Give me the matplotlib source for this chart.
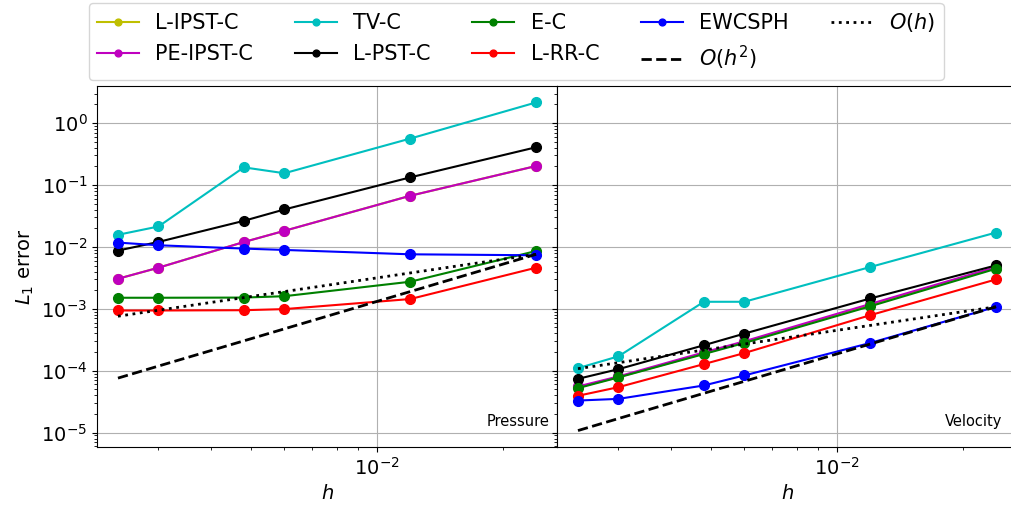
import matplotlib
matplotlib.use('Agg')
import matplotlib.pyplot as plt

h = [0.0024, 0.003, 0.0048, 0.006, 0.012, 0.024]

# pressure errors
p_lipst = [0.00306, 0.00462, 0.0120, 0.0182, 0.0671, 0.203]
p_peipst = [0.00306, 0.00462, 0.0120, 0.0182, 0.0671, 0.203]
p_tv = [0.0157, 0.0214, 0.193, 0.155, 0.563, 2.16]
p_lpst = [0.00873, 0.01205, 0.0264, 0.0403, 0.133, 0.408]
p_ec = [0.00151, 0.00151, 0.00152, 0.0016, 0.00274, 0.0086]
p_lrr = [0.00094, 0.00094, 0.00095, 0.00099, 0.00144, 0.00462]
p_ewc = [0.01175, 0.01064, 0.0094, 0.00894, 0.0076, 0.00733]
p_oh = [7.6e-4, 9.5e-4, 1.52e-3, 1.9e-3, 3.8e-3, 7.6e-3]
p_oh2 = [7.6e-5, 1.19e-4, 3.04e-4, 4.75e-4, 1.9e-3, 7.6e-3]

# velocity errors
v_lipst = [5.4e-5, 7.9e-5, 1.9e-4, 2.9e-4, 1.15e-3, 4.6e-3]
v_peipst = [5.57e-5, 8.1e-5, 1.98e-4, 2.99e-4, 1.20e-3, 4.74e-3]
v_tv = [1.10e-4, 1.71e-4, 1.30e-3, 1.30e-3, 4.74e-3, 0.0171]
v_lpst = [7.4e-5, 1.06e-4, 2.58e-4, 3.98e-4, 1.47e-3, 5.04e-3]
v_ec = [5.24e-5, 7.8e-5, 1.86e-4, 2.81e-4, 1.10e-3, 4.45e-3]
v_lrr = [3.94e-5, 5.43e-5, 1.28e-4, 1.93e-4, 7.9e-4, 2.99e-3]
v_ewc = [3.30e-5, 3.51e-5, 5.78e-5, 8.4e-5, 2.81e-4, 1.08e-3]
v_oh = [1.08e-4, 1.35e-4, 2.16e-4, 2.7e-4, 5.4e-4, 1.08e-3]
v_oh2 = [1.08e-5, 1.69e-5, 4.32e-5, 6.75e-5, 2.7e-4, 1.08e-3]

labels = ['L-IPST-C', 'PE-IPST-C', 'TV-C', 'L-PST-C', 'E-C', 'L-RR-C', 'EWCSPH']
colors = ['y', 'm', 'c', 'k', 'g', 'r', 'b']
pressure = [p_lipst, p_peipst, p_tv, p_lpst, p_ec, p_lrr, p_ewc]
velocity = [v_lipst, v_peipst, v_tv, v_lpst, v_ec, v_lrr, v_ewc]

plt.rcParams['font.size'] = 14

fig, axes = plt.subplots(1, 2, sharey=True, figsize=(10.11, 5.12), dpi=100)
fig.subplots_adjust(left=0.096, right=1.006, bottom=0.127, top=0.832, wspace=0)

for ax, data, oh, oh2, name in [(axes[0], pressure, p_oh, p_oh2, 'Pressure'),
                                 (axes[1], velocity, v_oh, v_oh2, 'Velocity')]:
    for vals, lab, c in zip(data, labels, colors):
        ax.loglog(h, vals, '-o', color=c, label=lab, lw=1.5, ms=7)
    ax.loglog(h, oh2, 'k--', lw=2, label='$O(h^2)$')
    ax.loglog(h, oh, 'k:', lw=2, label='$O(h)$')
    ax.grid(True)
    ax.set_xlabel('$h$')
    xpos = 0.983 if name == 'Pressure' else 0.967
    ax.text(xpos, 0.07, name, transform=ax.transAxes, ha='right', va='center', fontsize=10.5)

axes[0].set_ylabel('$L_1$ error')

handles, labs = axes[0].get_legend_handles_labels()
fig.legend(handles, labs, loc='upper center', bbox_to_anchor=(0.5105, 1.0), ncol=5,
           markerscale=0.7, fontsize=15, borderaxespad=0.15)

fig.savefig('out.png', dpi=100)
